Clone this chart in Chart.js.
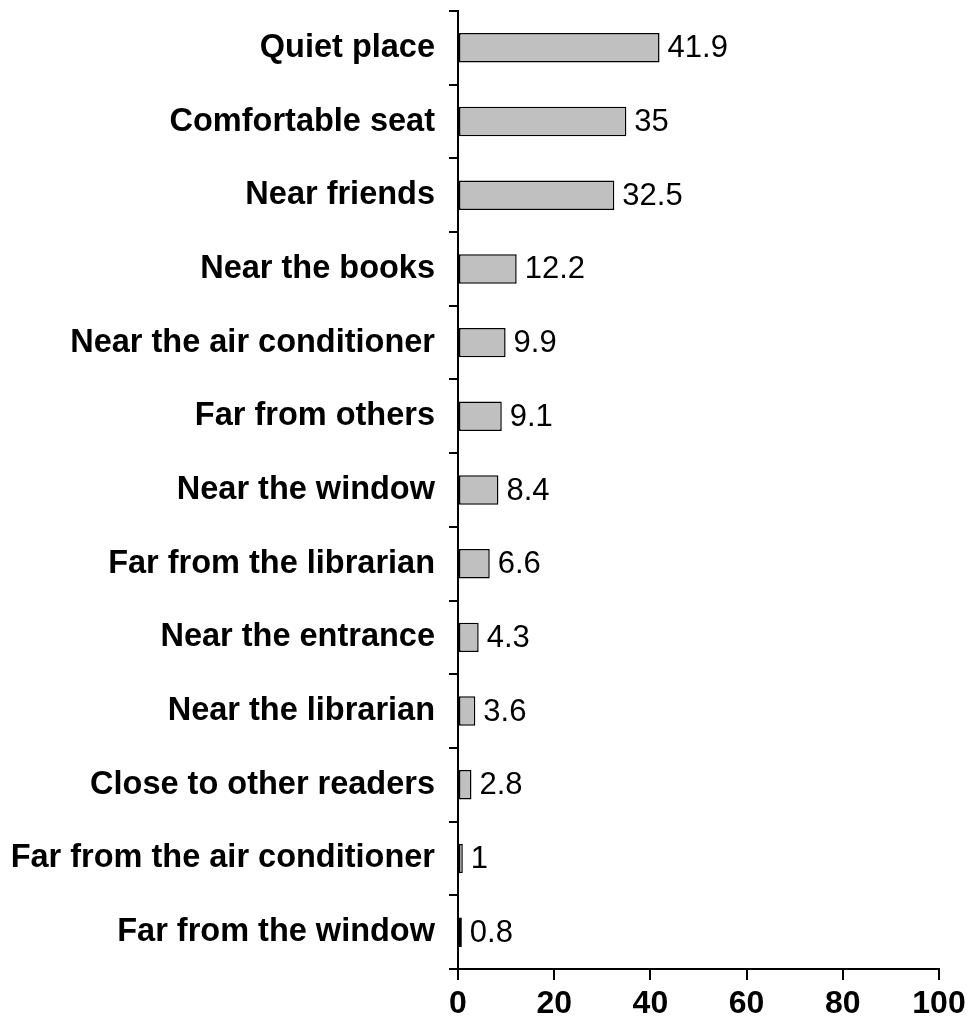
<!DOCTYPE html>
<html>
<head>
<meta charset="utf-8">
<script src="https://cdn.jsdelivr.net/npm/chart.js@4"></script>
<style>
  body { margin: 0; background: #fff; }
</style>
</head>
<body>
<canvas id="seatChart" width="971" height="1030"></canvas>
<script>
const categories = [
    'Quiet place',
    'Comfortable seat',
    'Near friends',
    'Near the books',
    'Near the air conditioner',
    'Far from others',
    'Near the window',
    'Far from the librarian',
    'Near the entrance',
    'Near the librarian',
    'Close to other readers',
    'Far from the air conditioner',
    'Far from the window'
];
const percentages = [41.9, 35, 32.5, 12.2, 9.9, 9.1, 8.4, 6.6, 4.3, 3.6, 2.8, 1, 0.8];
const xTicks = [0, 20, 40, 60, 80, 100];

const FONT = 'Arial, "Liberation Sans", sans-serif';

// Draw the value next to the end of each bar
const valueLabels = {
    id: 'valueLabels',
    afterDatasetsDraw(chart) {
        const ctx = chart.ctx;
        const meta = chart.getDatasetMeta(0);
        ctx.save();
        ctx.font = '31px ' + FONT;
        ctx.fillStyle = '#000';
        ctx.textAlign = 'left';
        ctx.textBaseline = 'middle';
        meta.data.forEach((bar, i) => {
            ctx.fillText(String(percentages[i]), bar.x + 8, bar.y + 1);
        });
        ctx.restore();
    }
};

new Chart(document.getElementById('seatChart'), {
    type: 'bar',
    data: {
        labels: categories,
        datasets: [{
            data: percentages,
            backgroundColor: '#c0c0c0',
            borderColor: '#000',
            borderWidth: 1.5,
            borderSkipped: false,
            barPercentage: 0.4,
            categoryPercentage: 1
        }]
    },
    options: {
        indexAxis: 'y',
        responsive: false,
        animation: false,
        layout: { padding: { top: 11, right: 32, left: 0, bottom: 0 } },
        plugins: {
            legend: { display: false },
            tooltip: { enabled: false }
        },
        scales: {
            x: {
                min: 0,
                max: 100,
                afterBuildTicks: (scale) => { scale.ticks = xTicks.map(v => ({ value: v })); },
                afterFit: (scale) => {
                    scale.height = 61;
                    scale.paddingLeft = 0;
                    scale.paddingRight = 0;
                },
                ticks: {
                    color: '#000',
                    font: { family: FONT, size: 32, weight: 'bold' },
                    padding: 5,
                    maxRotation: 0
                },
                grid: {
                    drawOnChartArea: false,
                    drawTicks: true,
                    tickLength: 11,
                    color: '#000',
                    lineWidth: 2
                },
                border: { color: '#000', width: 2 }
            },
            y: {
                afterFit: (scale) => {
                    scale.width = 458;
                    scale.paddingTop = 0;
                    scale.paddingBottom = 0;
                },
                ticks: {
                    color: '#000',
                    font: { family: FONT, size: 32.5, weight: 'bold' },
                    padding: 14
                },
                grid: {
                    offset: true,
                    drawOnChartArea: false,
                    drawTicks: true,
                    tickLength: 9,
                    color: '#000',
                    lineWidth: 2
                },
                border: { color: '#000', width: 2 }
            }
        }
    },
    plugins: [valueLabels]
});
</script>
</body>
</html>
